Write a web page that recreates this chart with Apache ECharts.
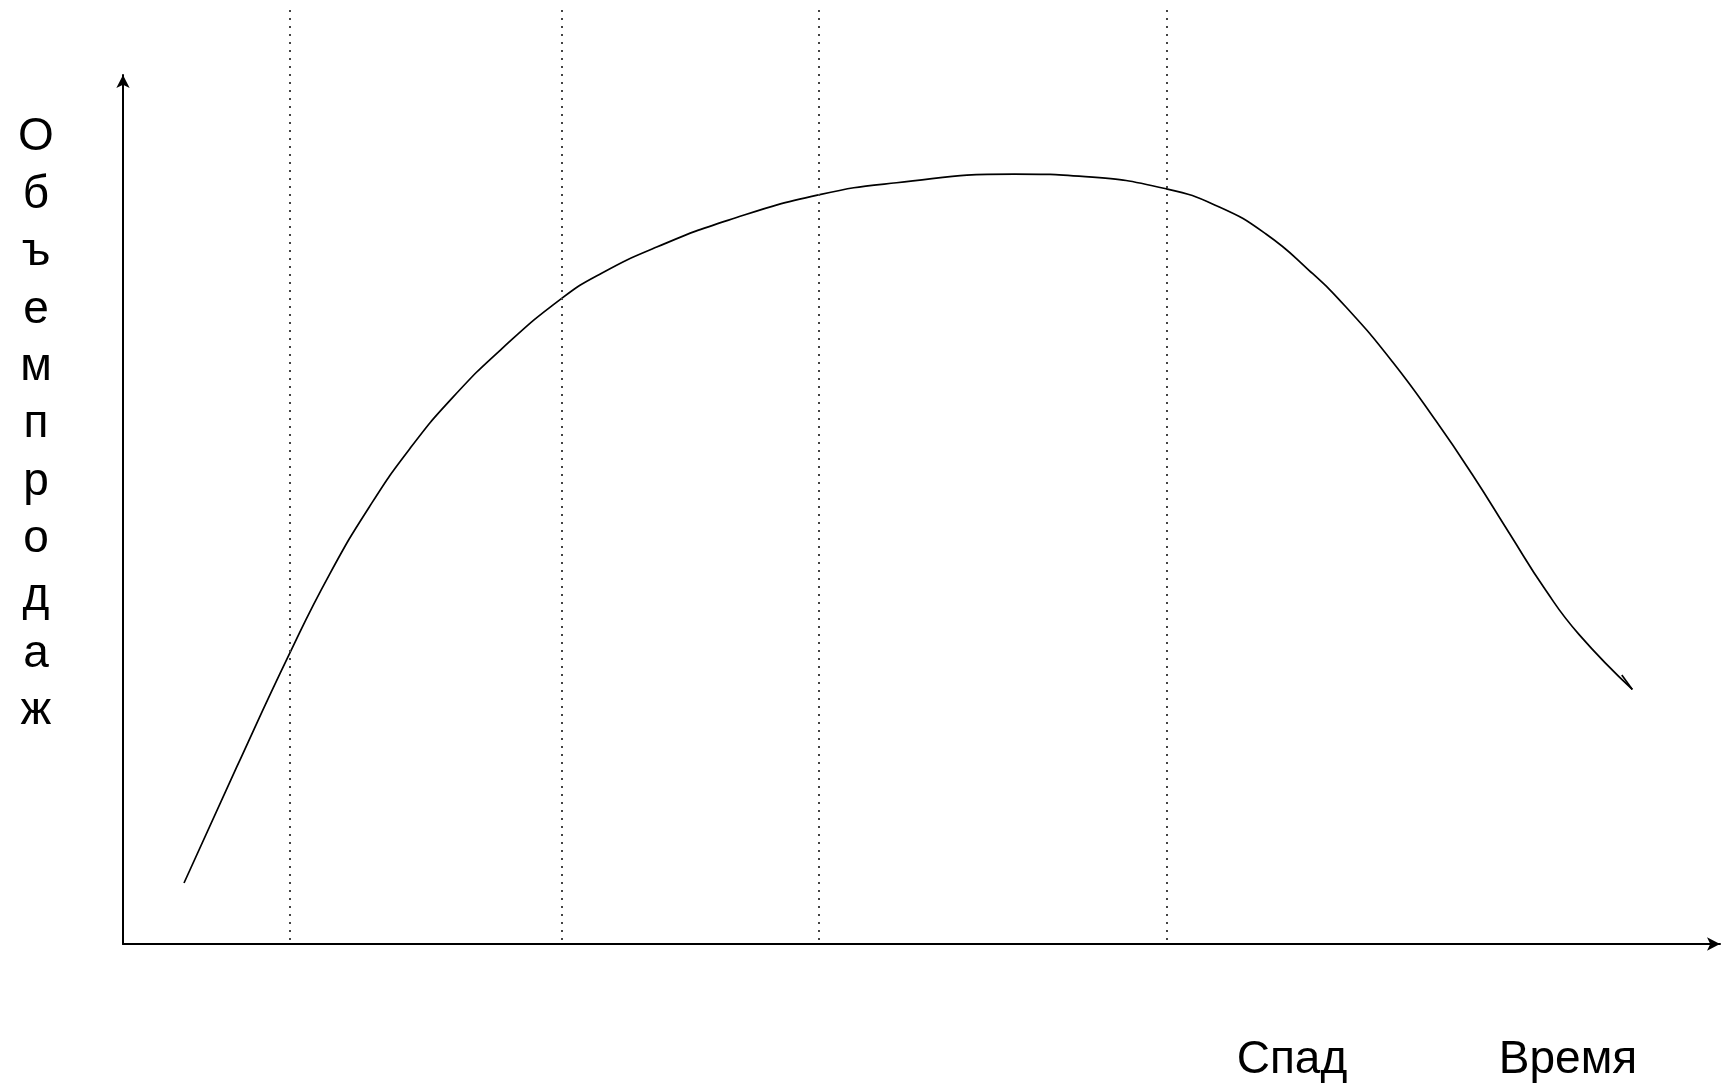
<!DOCTYPE html>
<html>
<head>
<meta charset="utf-8">
<script src="https://cdn.jsdelivr.net/npm/echarts@6/dist/echarts.min.js"></script>
<style>
  html, body { margin: 0; padding: 0; background: #fff; }
  #chart { width: 1721px; height: 1088px; }
</style>
</head>
<body>
<div id="chart"></div>
<script>
// Time (x) and sales volume (y) of the product life-cycle curve, in axis units 0..100
const timeX  = [3.82, 7.13, 10.45, 12.95, 15.46, 17.96, 20.65, 23.78, 27.47, 29.97, 33.42, 37.92, 43.55, 48.44, 55.82, 60.26, 65.33, 68.65, 71.57, 74.28, 76.58, 79.49, 82.21, 84.50, 86.80, 89.09, 91.18, 94.51];
const salesY = [7.02, 20.4, 33.5, 42.6, 50.4, 57.0, 62.9, 68.6, 74.3, 77.2, 80.2, 83.3, 86.2, 87.6, 88.6, 88.3, 86.9, 84.8, 81.7, 77.5, 73.3, 67.0, 60.2, 54.0, 47.3, 40.7, 35.6, 29.3];
// small pen stroke at the end of the curve
const hookX = [93.85, 94.51];
const hookY = [30.95, 29.3];
// boundaries between life-cycle stages (dotted verticals)
const stageBounds = [10.45, 27.47, 43.55, 65.33];
// texts
const yTitle = 'Объем продаж';
const xTitle = 'Время';
const stageLabel = 'Спад';

const FONT = '"Liberation Sans", Arial, sans-serif';
const curve = timeX.map((x, i) => [x, salesY[i]]);
const hook = hookX.map((x, i) => [x, hookY[i]]);

const chart = echarts.init(document.getElementById('chart'), null, { renderer: 'canvas' });
chart.setOption({
  backgroundColor: '#ffffff',
  animation: false,
  grid: [
    { left: 123, right: 1, top: 75, bottom: 144 },
    { left: 123, right: 1, top: 8, bottom: 148 }
  ],
  xAxis: [
    {
      gridIndex: 0, type: 'value', min: 0, max: 100,
      axisLine: { show: true, symbol: ['none', 'arrow'], symbolSize: [10, 13], lineStyle: { color: '#000', width: 2 } },
      axisTick: { show: false }, axisLabel: { show: false }, splitLine: { show: false }
    },
    { gridIndex: 1, type: 'value', min: 0, max: 100, show: false }
  ],
  yAxis: [
    {
      gridIndex: 0, type: 'value', min: 0, max: 100,
      axisLine: { show: true, symbol: ['none', 'arrow'], symbolSize: [10, 13], lineStyle: { color: '#000', width: 2 } },
      axisTick: { show: false }, axisLabel: { show: false }, splitLine: { show: false }
    },
    { gridIndex: 1, type: 'value', min: 0, max: 1, show: false }
  ],
  series: [
    {
      type: 'line', xAxisIndex: 1, yAxisIndex: 1, data: [], silent: true,
      markLine: {
        silent: true, symbol: 'none', label: { show: false },
        lineStyle: { color: '#444', width: 2, type: [2, 6] },
        data: stageBounds.map(v => ({ xAxis: v }))
      }
    },
    {
      type: 'line', data: curve, smooth: 0.5, showSymbol: false, silent: true,
      lineStyle: { color: '#000', width: 1.7 }
    },
    {
      type: 'line', data: hook, showSymbol: false, silent: true,
      lineStyle: { color: '#000', width: 1.7 }
    }
  ],
  graphic: [
    {
      type: 'text', x: 36, y: 109,
      style: {
        text: yTitle.replace(/\s+/g, '').split('').join('\n'),
        font: '46px ' + FONT, fill: '#000', align: 'center', verticalAlign: 'top', lineHeight: 57.4
      }
    },
    {
      type: 'text', x: 1292, y: 1060,
      style: { text: stageLabel, font: '46px ' + FONT, fill: '#000', align: 'center', verticalAlign: 'middle' }
    },
    {
      type: 'text', x: 1568, y: 1060,
      style: { text: xTitle, font: '46px ' + FONT, fill: '#000', align: 'center', verticalAlign: 'middle' }
    }
  ]
});
</script>
</body>
</html>
